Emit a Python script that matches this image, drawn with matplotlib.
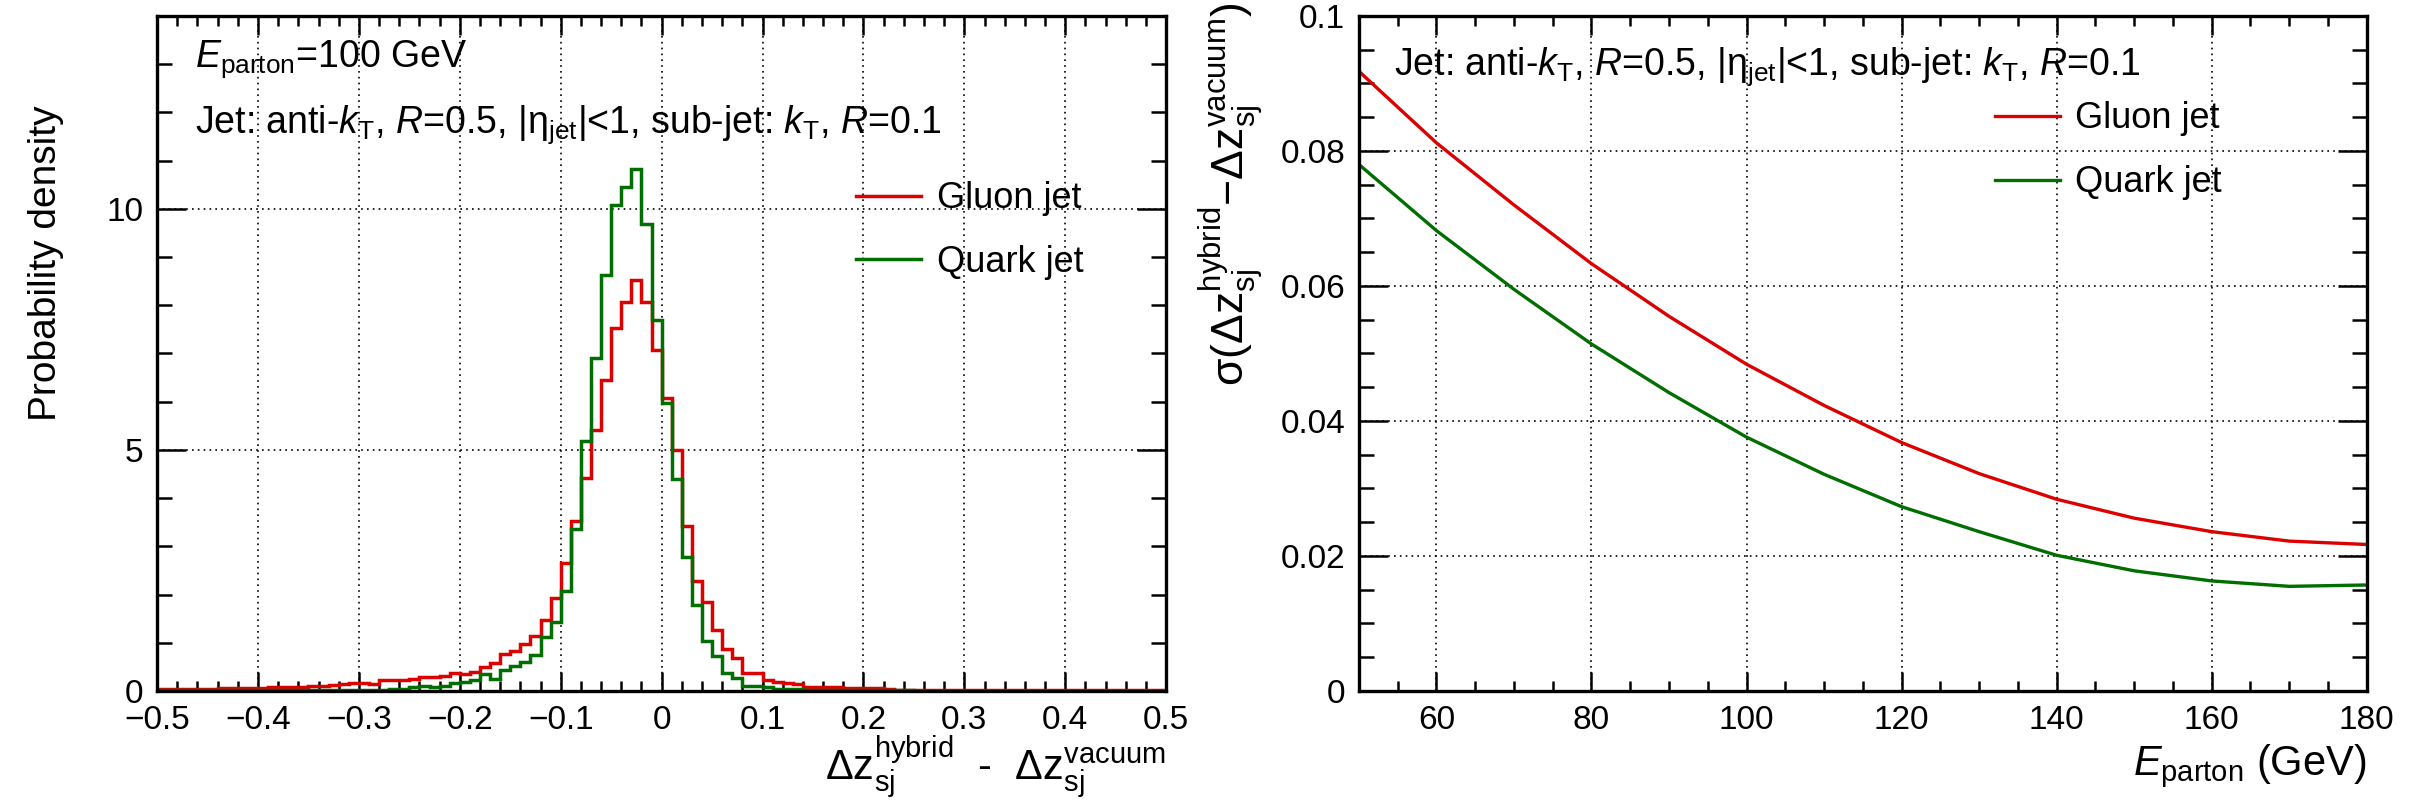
import numpy as np
import matplotlib
matplotlib.use("Agg")
import matplotlib.pyplot as plt
from matplotlib.ticker import MultipleLocator, FuncFormatter

# distributions of dz(hybrid) - dz(vacuum), 100 bins on [-0.5, 0.5]
bin_edges = np.linspace(-0.5, 0.5, 101)

gluon_density = [
    0.04, 0.04, 0.04, 0.05, 0.05, 0.05, 0.06, 0.06, 0.06, 0.06,
    0.07, 0.08, 0.08, 0.09, 0.09, 0.10, 0.11, 0.12, 0.15, 0.16,
    0.17, 0.15, 0.22, 0.23, 0.23, 0.24, 0.28, 0.29, 0.32, 0.37,
    0.35, 0.40, 0.49, 0.58, 0.77, 0.83, 0.97, 1.13, 1.48, 1.92,
    2.65, 3.53, 4.41, 5.41, 6.44, 7.53, 8.07, 8.53, 8.07, 7.07,
    6.08, 5.00, 3.43, 2.28, 1.84, 1.27, 0.87, 0.68, 0.37, 0.38,
    0.23, 0.19, 0.16, 0.15, 0.09, 0.08, 0.08, 0.09, 0.07, 0.06,
    0.06, 0.07, 0.04, 0.03, 0.03, 0.03, 0.03, 0.03, 0.03, 0.02,
    0.02, 0.02, 0.02, 0.02, 0.02, 0.02, 0.01, 0.02, 0.01, 0.01,
    0.01, 0.01, 0.01, 0.01, 0.01, 0.01, 0.01, 0.01, 0.01, 0.01,
]

quark_density = [
    0.01, 0.01, 0.01, 0.01, 0.01, 0.01, 0.01, 0.01, 0.01, 0.01,
    0.01, 0.01, 0.01, 0.01, 0.02, 0.01, 0.02, 0.02, 0.02, 0.02,
    0.03, 0.03, 0.02, 0.04, 0.05, 0.08, 0.10, 0.08, 0.10, 0.17,
    0.19, 0.23, 0.35, 0.25, 0.44, 0.51, 0.61, 0.75, 1.12, 1.44,
    2.07, 3.35, 5.18, 6.91, 8.62, 10.08, 10.46, 10.83, 9.69, 7.69,
    5.98, 4.39, 2.78, 1.78, 1.03, 0.73, 0.38, 0.26, 0.10, 0.10,
    0.09, 0.035, 0.05, 0.04, 0.02, 0.02, 0.01, 0.01, 0.01, 0.01,
    0.01, 0.01, 0.01, 0.01, 0.01, 0.005, 0.005, 0.005, 0.005, 0.005,
    0.005, 0.005, 0.005, 0.005, 0.005, 0.005, 0.005, 0.005, 0.005, 0.005,
    0.005, 0.005, 0.005, 0.005, 0.005, 0.005, 0.005, 0.005, 0.005, 0.005,
]

# width of the distribution vs parton energy
e_parton = [50, 60, 70, 80, 90, 100, 110, 120, 130, 140, 150, 160, 170, 180]
gluon_sigma = [0.0918, 0.0812, 0.0720, 0.0633, 0.0555, 0.0484, 0.0423,
               0.0368, 0.0322, 0.0284, 0.0256, 0.0236, 0.0222, 0.0217]
quark_sigma = [0.0780, 0.0682, 0.0595, 0.0514, 0.0442, 0.0376, 0.0321,
               0.0273, 0.0236, 0.0201, 0.0178, 0.0163, 0.0155, 0.0157]

RED = "#dc0000"
GREEN = "#006e00"

plt.rcParams["font.family"] = "Liberation Sans"
plt.rcParams["mathtext.fontset"] = "custom"
plt.rcParams["mathtext.rm"] = "Liberation Sans"
plt.rcParams["mathtext.it"] = "Liberation Sans:italic"
plt.rcParams["mathtext.bf"] = "Liberation Sans:bold"
plt.rcParams["axes.unicode_minus"] = True

TICK_FS = 24
TEXT_FS = 27
LEG_FS = 26
TITLE_FS = 30

jet_text = (r"Jet: anti-$k_{\mathrm{T}}$, $R$=0.5, |$\mathrm{\eta}_{\mathrm{jet}}$|<1, "
            r"sub-jet: $k_{\mathrm{T}}$, $R$=0.1")


def fmt(v, pos):
    s = "%g" % round(v, 6)
    return s.replace("-", "\u2212")


def style_axes(ax, xmaj, xmin, ymaj, ymin, ylen):
    ax.xaxis.set_major_locator(MultipleLocator(xmaj))
    ax.xaxis.set_minor_locator(MultipleLocator(xmin))
    ax.yaxis.set_major_locator(MultipleLocator(ymaj))
    ax.yaxis.set_minor_locator(MultipleLocator(ymin))
    ax.xaxis.set_major_formatter(FuncFormatter(fmt))
    ax.yaxis.set_major_formatter(FuncFormatter(fmt))
    ax.tick_params(which="both", direction="in", top=True, right=True,
                   width=1.8, labelsize=TICK_FS)
    ax.tick_params(axis="x", which="major", length=14, pad=10)
    ax.tick_params(axis="x", which="minor", length=7.5)
    ax.tick_params(axis="y", which="major", length=ylen, pad=10)
    ax.tick_params(axis="y", which="minor", length=ylen / 2)
    for sp in ax.spines.values():
        sp.set_linewidth(2.4)
    ax.grid(True, which="major", color="black", linewidth=1.2,
            linestyle=(0, (1, 2.5)))
    ax.set_axisbelow(True)


fig = plt.figure(figsize=(24.24, 8.09), dpi=100)

# left panel: probability density
ax1 = fig.add_axes([0.0648, 0.1459, 0.4163, 0.8344])
ax1.stairs(gluon_density, bin_edges, color=RED, linewidth=2.5, label="Gluon jet")
ax1.stairs(quark_density, bin_edges, color=GREEN, linewidth=2.5, label="Quark jet")
ax1.set_xlim(-0.5, 0.5)
ax1.set_ylim(0, 14)
style_axes(ax1, 0.1, 0.02, 5, 1, 21)
ax1.text(0.038, 0.936, r"$E_{\mathrm{parton}}$=100 GeV", transform=ax1.transAxes,
         fontsize=TEXT_FS, va="center", ha="left")
ax1.text(0.038, 0.839, jet_text, transform=ax1.transAxes,
         fontsize=TEXT_FS, va="center", ha="left")
ax1.legend(loc="center left", bbox_to_anchor=(0.693, 0.682), frameon=False,
           fontsize=LEG_FS, handlelength=1.8, handletextpad=0.42,
           labelspacing=0.8, borderaxespad=0, borderpad=0)

# right panel: width vs energy
ax2 = fig.add_axes([0.5606, 0.1459, 0.4158, 0.8344])
ax2.plot(e_parton, gluon_sigma, color=RED, linewidth=2.4, label="Gluon jet")
ax2.plot(e_parton, quark_sigma, color=GREEN, linewidth=2.4, label="Quark jet")
ax2.set_xlim(50, 180)
ax2.set_ylim(0, 0.1)
style_axes(ax2, 20, 5, 0.02, 0.005, 21)
ax2.text(0.035, 0.925, jet_text, transform=ax2.transAxes,
         fontsize=TEXT_FS, va="center", ha="left")
ax2.legend(loc="center left", bbox_to_anchor=(0.631, 0.8), frameon=False,
           fontsize=LEG_FS, handlelength=1.8, handletextpad=0.42,
           labelspacing=0.8, borderaxespad=0, borderpad=0)

# axis titles
fig.text(0.019, 0.675, "Probability density", rotation=90, fontsize=TITLE_FS - 2,
         ha="center", va="center")
fig.text(0.481, 0.036,
         r"$\mathrm{\Delta z}^{\mathrm{hybrid}}_{\mathrm{sj}}$  -  "
         r"$\mathrm{\Delta z}^{\mathrm{vacuum}}_{\mathrm{sj}}$",
         fontsize=TITLE_FS, ha="right", va="baseline")
fig.text(0.508, 0.997,
         r"$\mathrm{\sigma(\Delta z}^{\mathrm{hybrid}}_{\mathrm{sj}}"
         r"\mathrm{-\Delta z}^{\mathrm{vacuum}}_{\mathrm{sj}}\mathrm{)}$",
         rotation=90, fontsize=TITLE_FS + 2, ha="center", va="top")
fig.text(0.9764, 0.042, r"$E_{\mathrm{parton}}$ (GeV)", fontsize=TITLE_FS,
         ha="right", va="baseline")

fig.savefig("out.png", dpi=100)
